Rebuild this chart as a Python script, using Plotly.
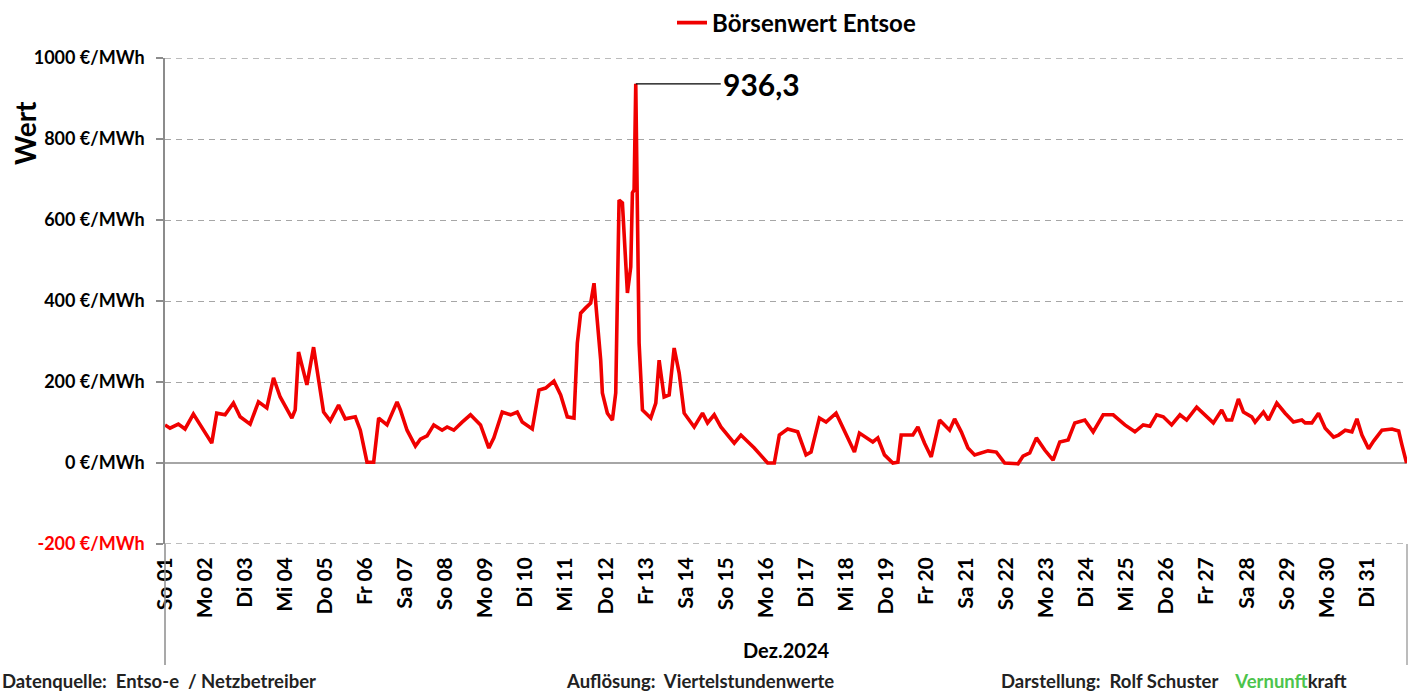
import pandas as pd
import plotly.graph_objects as go

# ---------------- data ----------------
start_date = "2024-12-01 00:00"
hours = [0, 3, 8, 12, 17, 20, 23, 28, 31, 36, 41, 45, 51, 56, 61, 65, 69, 76, 78, 80,
         85, 89, 95, 99, 104, 108, 114, 117, 121, 125, 128, 133, 139, 141, 145, 150, 153, 157, 161, 166,
         169, 173, 178, 183, 189, 194, 197, 202, 207, 211, 214, 220, 224, 228, 233, 237, 241, 245, 247, 249,
         252, 255, 257, 259, 261, 262, 265, 268, 270, 272, 274, 277, 279, 280, 281, 282, 283, 284, 286, 291,
         294, 296, 299, 302, 305, 308, 311, 317, 322, 325, 329, 333, 341, 345, 353, 361, 365, 368, 373, 379,
         384, 387, 392, 396, 402, 407, 413, 416, 420, 424, 427, 431, 436, 439, 441, 448, 451, 455, 459, 464,
         470, 473, 477, 481, 485, 493, 498, 503, 511, 514, 518, 522, 527, 532, 536, 541, 545, 551, 556, 562,
         568, 575, 581, 586, 590, 594, 598, 603, 608, 612, 618, 622, 628, 633, 636, 639, 643, 646, 651, 653,
         658, 661, 666, 671, 676, 681, 683, 687, 691, 695, 700, 703, 707, 711, 714, 717, 721, 724, 729, 735,
         739, 741, 743.75]
prices = [94, 86, 96, 84, 121, 101, 81, 49, 123, 119, 148, 114, 96, 151, 136, 210, 163, 111, 131, 274,
          193, 286, 126, 104, 143, 109, 114, 81, 2, 2, 111, 94, 151, 131, 81, 42, 59, 67, 94, 81,
          89, 81, 101, 119, 94, 37, 62, 126, 119, 126, 101, 84, 180, 185, 202, 168, 114, 111, 296, 370,
          383, 395, 444, 360, 254, 173, 123, 106, 173, 649, 642, 420, 484, 667, 674, 936.3, 551, 296, 131, 111,
          148, 254, 163, 168, 284, 222, 123, 89, 123, 99, 119, 89, 49, 69, 37, 0, 0, 69, 84, 77,
          20, 27, 111, 101, 123, 77, 27, 74, 64, 52, 62, 20, 0, 2, 69, 69, 89, 49, 15, 106,
          81, 109, 77, 37, 20, 30, 27, 0, -2, 17, 25, 62, 32, 7, 52, 57, 99, 106, 77, 119,
          119, 94, 77, 94, 91, 119, 114, 94, 119, 106, 138, 123, 99, 131, 106, 106, 158, 126, 114, 101,
          126, 106, 148, 123, 101, 106, 99, 99, 123, 86, 64, 69, 81, 77, 109, 69, 35, 54, 81, 84,
          79, 44, 0]
series_name = "Börsenwert Entsoe"

day_labels = ["So 01", "Mo 02", "Di 03", "Mi 04", "Do 05", "Fr 06", "Sa 07", "So 08", "Mo 09", "Di 10",
              "Mi 11", "Do 12", "Fr 13", "Sa 14", "So 15", "Mo 16", "Di 17", "Mi 18", "Do 19", "Fr 20",
              "Sa 21", "So 22", "Mo 23", "Di 24", "Mi 25", "Do 26", "Fr 27", "Sa 28", "So 29", "Mo 30",
              "Di 31"]
y_tick_values = [-200, 0, 200, 400, 600, 800, 1000]
y_tick_labels = ["-200 €/MWh", "0 €/MWh", "200 €/MWh", "400 €/MWh", "600 €/MWh", "800 €/MWh", "1000 €/MWh"]
month_label = "Dez.2024"
y_title = "Wert"

# ---------------- build ----------------
base = pd.Timestamp(start_date)
times = [base + pd.Timedelta(hours=h) for h in hours]
day_ticks = [base + pd.Timedelta(days=i) for i in range(len(day_labels))]
x_end = base + pd.Timedelta(days=len(day_labels))

FONT = "Lato"
W, H = 1416, 695
ML, MR, MT, MB = 165, 9, 58, 151
PW, PH = W - ML - MR, H - MT - MB


def px_x(p):
    return (p - ML) / PW


def px_y(p):
    return (H - MB - p) / PH


ytext = [("<span style='color:#FF0000'>%s</span>" % t) if v < 0 else t
         for v, t in zip(y_tick_values, y_tick_labels)]

fig = go.Figure()
fig.add_trace(go.Scatter(x=times, y=prices, mode="lines", name=series_name,
                         line=dict(color="#F00000", width=3.6)))

peak_i = max(range(len(prices)), key=lambda i: prices[i])
peak_text = ("%.1f" % prices[peak_i]).replace(".", ",")

grid_c = "#A6A6A6"
GRIDDASH = "6px,5px"
fig.update_layout(
    width=W, height=H,
    margin=dict(l=ML, r=MR, t=MT, b=MB, autoexpand=False),
    paper_bgcolor="white", plot_bgcolor="white",
    font=dict(family=FONT, color="black"),
    showlegend=True,
    legend=dict(orientation="h", x=px_x(672), y=px_y(23), xanchor="left", yanchor="middle",
                font=dict(size=24, family=FONT, color="black", weight="bold"),
                bgcolor="rgba(0,0,0,0)"),
    xaxis=dict(type="date", range=[base, x_end], tickmode="array", tickvals=day_ticks,
               ticktext=["<b>%s</b>" % t for t in day_labels], tickangle=-90,
               tickfont=dict(size=21, family=FONT, color="black"),
               showgrid=False, showline=False, zeroline=False, ticks="",
               ticklabelstandoff=8),
    yaxis=dict(range=[-200, 1000], tickmode="array", tickvals=y_tick_values,
               ticktext=["<b>%s</b>" % t for t in ytext],
               tickfont=dict(size=18, family=FONT, color="black"),
               showgrid=True, gridcolor=grid_c, griddash=GRIDDASH, gridwidth=1.3,
               zeroline=True, zerolinecolor=grid_c, zerolinewidth=2.2,
               showline=True, linecolor="#8C8C8C", linewidth=1.5,
               ticks="outside", ticklen=7, tickcolor="#8C8C8C", tickwidth=1.5,
               ticklabelstandoff=8),
)

# edge grid lines (plotly hides grid lines on the plot border)
for v in (min(y_tick_values), max(y_tick_values)):
    fig.add_shape(type="line", xref="paper", yref="y", x0=0, x1=1, y0=v, y1=v,
                  line=dict(color=grid_c, width=1.3, dash=GRIDDASH), layer="below")

# category-axis frame lines (left axis continues down, right edge line)
fig.add_shape(type="line", xref="paper", yref="paper", x0=0, x1=0, y0=0, y1=px_y(665),
              line=dict(color="#8C8C8C", width=1.5))
fig.add_shape(type="line", xref="paper", yref="paper", x0=1, x1=1, y0=0, y1=px_y(665),
              line=dict(color="#A6A6A6", width=1.5))

# y title
fig.add_annotation(xref="paper", yref="paper", x=px_x(25), y=px_y(133), text="<b>%s</b>" % y_title,
                   showarrow=False, textangle=-90, xanchor="center", yanchor="middle",
                   font=dict(size=28, family=FONT, color="black"))

# peak annotation
fig.add_annotation(x=times[peak_i], y=prices[peak_i], text="<b>%s</b>" % peak_text,
                   showarrow=True, arrowhead=0, arrowwidth=1.3, arrowcolor="black",
                   ax=85, ay=0, xanchor="left", yanchor="middle",
                   font=dict(size=30, family=FONT, color="black"))

# month label
fig.add_annotation(xref="paper", yref="paper", x=px_x(786), y=px_y(650), text="<b>%s</b>" % month_label,
                   showarrow=False, xanchor="center", yanchor="middle",
                   font=dict(size=20, family=FONT, color="black"))

# footer
foot_y = px_y(693)
foot_font = dict(size=18.5, family=FONT, color="#222222")
fig.add_annotation(xref="paper", yref="paper", x=px_x(1), y=foot_y,
                   text="<b>Datenquelle:&nbsp; Entso-e&nbsp; / Netzbetreiber</b>",
                   showarrow=False, xanchor="left", yanchor="bottom", font=foot_font,
                   borderpad=0)
fig.add_annotation(xref="paper", yref="paper", x=px_x(565), y=foot_y,
                   text="<b>Auflösung:&nbsp; Viertelstundenwerte</b>",
                   showarrow=False, xanchor="left", yanchor="bottom", font=foot_font,
                   borderpad=0)
fig.add_annotation(xref="paper", yref="paper", x=px_x(1000), y=foot_y,
                   text="<b>Darstellung:&nbsp; Rolf Schuster&nbsp;&nbsp;&nbsp; "
                        "<span style='color:#4CC44C'>Vernunft</span>kraft</b>",
                   showarrow=False, xanchor="left", yanchor="bottom", font=foot_font,
                   borderpad=0)

fig.write_html("out.html", config={"displayModeBar": False},
               post_script="document.body.style.margin='0';")
